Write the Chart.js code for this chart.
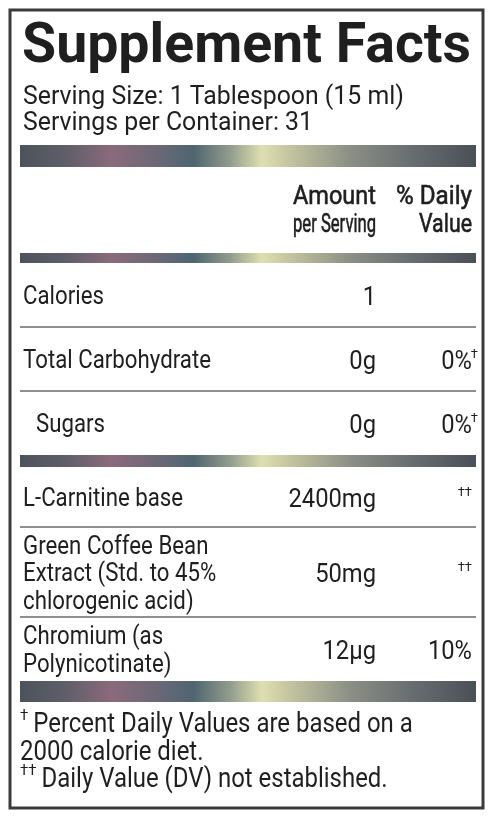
<!DOCTYPE html>
<html lang="en">
<head>
  <meta charset="UTF-8">
  <title>Supplement Facts</title>
  <style>
    * { margin: 0; padding: 0; box-sizing: border-box; }
    body { background: #fff; width: 500px; height: 819px; overflow: hidden; }
    canvas { display: block; }
  </style>
  <script src="https://cdn.jsdelivr.net/npm/chart.js"></script>
</head>
<body>
  <canvas id="factsChart" width="500" height="819"></canvas>

  <script>
    const title = 'Supplement Facts';
    const servingLines = ['Serving Size: 1 Tablespoon (15 ml)', 'Servings per Container: 31'];
    const headerAmount = ['Amount', 'per Serving'];
    const headerDaily = ['% Daily', 'Value'];

    // one entry per row, '\n' splits a name over lines
    const nutrients = [
      'Calories',
      'Total Carbohydrate',
      'Sugars',
      'L-Carnitine base',
      'Green Coffee Bean\nExtract (Std. to 45%\nchlorogenic acid)',
      'Chromium (as\nPolynicotinate)'
    ];
    const amounts = ['1', '0g', '0g', '2400mg', '50mg', '12µg'];
    const dailyValues = ['', '0%', '0%', '', '', '10%'];
    const dailyMarks = ['', '†', '†', '††', '††', ''];
    const subItems = [false, false, true, false, false, false];
    const groups = [[0, 1, 2], [3, 4, 5]];

    const footnotes = [
      ['†', 'Percent Daily Values are based on a'],
      ['', '2000 calorie diet.'],
      ['††', 'Daily Value (DV) not established.']
    ];

    const FONT = 'Roboto, "Open Sans", sans-serif';
    const INK = '#1f1f1f';

    function txt(ctx, s, x, y, size, weight, align, sx, heavy) {
      ctx.save();
      ctx.font = weight + ' ' + size + 'px ' + FONT;
      ctx.textAlign = 'left';
      ctx.textBaseline = 'alphabetic';
      ctx.fillStyle = INK;
      const w = ctx.measureText(s).width * sx;
      const x0 = align === 'right' ? x - w : x;
      ctx.translate(x0, y);
      ctx.scale(sx, 1);
      ctx.fillText(s, 0, 0);
      if (heavy) {
        // a touch heavier, like a medium weight
        ctx.strokeStyle = INK;
        ctx.lineWidth = heavy;
        ctx.strokeText(s, 0, 0);
      }
      ctx.restore();
      return w;
    }

    // squeeze a string to a given width
    function fitTxt(ctx, s, x, y, size, weight, align, width, heavy) {
      ctx.font = weight + ' ' + size + 'px ' + FONT;
      return txt(ctx, s, x, y, size, weight, align, width / ctx.measureText(s).width, heavy);
    }

    function band(ctx, x1, x2, y, h) {
      const g = ctx.createLinearGradient(x1, 0, x2, 0);
      g.addColorStop(0.00, '#4c535b');
      g.addColorStop(0.10, '#5f5e69');
      g.addColorStop(0.20, '#8b6a7b');
      g.addColorStop(0.30, '#6c6877');
      g.addColorStop(0.38, '#4f6570');
      g.addColorStop(0.46, '#909c8c');
      g.addColorStop(0.53, '#dedfb0');
      g.addColorStop(0.60, '#bfc19c');
      g.addColorStop(0.72, '#8d9087');
      g.addColorStop(0.86, '#686d70');
      g.addColorStop(1.00, '#4a5057');
      ctx.fillStyle = g;
      ctx.fillRect(x1, y, x2 - x1, h);
    }

    const labelPlugin = {
      id: 'labelPlugin',
      afterDraw(chart) {
        const ctx = chart.ctx;
        const { left, right, top, bottom } = chart.chartArea;
        const boxL = left + 10, boxR = right - 17, boxT = top + 10, boxB = bottom - 11;
        const inL = boxL + 10, inR = boxR - 7;
        const textL = inL + 3;
        const amtR = 376, dvR = 472;

        ctx.save();
        ctx.fillStyle = '#fff';
        ctx.fillRect(left, top, right - left, bottom - top);

        // outer box
        ctx.strokeStyle = '#3a3a3a';
        ctx.lineWidth = 3;
        ctx.strokeRect(boxL, boxT, boxR - boxL, boxB - boxT);

        // title, stretched to the box width
        fitTxt(ctx, title, textL - 1, top + 62, 55, 'bold', 'left', inR - 4 - textL);

        txt(ctx, servingLines[0], textL, top + 104, 26, 'normal', 'left', 0.955);
        txt(ctx, servingLines[1], textL, top + 130, 26, 'normal', 'left', 0.955);

        band(ctx, inL, inR, top + 145, 22);

        fitTxt(ctx, headerAmount[0], amtR, top + 204, 26, 'normal', 'right', 83, 0.6);
        fitTxt(ctx, headerAmount[1], amtR, top + 232, 26, 'normal', 'right', 83, 0.6);
        fitTxt(ctx, headerDaily[0], dvR, top + 204, 26, 'normal', 'right', 76, 0.6);
        fitTxt(ctx, headerDaily[1], dvR, top + 232, 26, 'normal', 'right', 53, 0.6);

        band(ctx, inL, inR, top + 253, 10);

        let y = top + 263;
        groups.forEach((rows, gi) => {
          rows.forEach((i, k) => {
            const lines = nutrients[i].split('\n');
            const h = lines.length > 1 ? 26 * lines.length + 12 : (gi === 0 ? 64 : 60);
            const mid = y + h / 2;
            const lh = 27.5;
            const first = mid + 9 - (lines.length - 1) * lh / 2;
            lines.forEach((ln, j) => {
              txt(ctx, ln, textL + (subItems[i] ? 13 : 0), first + j * lh, 25, 'normal', 'left', 0.89);
            });
            txt(ctx, amounts[i], amtR, mid + 10, 25, 'normal', 'right', 0.95);
            if (dailyMarks[i]) {
              txt(ctx, dailyMarks[i], dailyValues[i] ? dvR + 6 : dvR, mid - 1, 13, 'normal', 'right', 1);
            }
            if (dailyValues[i]) txt(ctx, dailyValues[i], dvR, mid + 10, 25, 'normal', 'right', 0.95);
            y += h;
            if (k < rows.length - 1) {
              ctx.strokeStyle = '#6a6a6a';
              ctx.lineWidth = 1.6;
              ctx.beginPath();
              ctx.moveTo(inL, y);
              ctx.lineTo(inR, y);
              ctx.stroke();
            }
          });
          const bh = gi < groups.length - 1 ? 12 : 21;
          band(ctx, inL, inR, y, bh);
          y += bh;
        });

        let fy = y + 30;
        footnotes.forEach(([mark, s]) => {
          let x = textL - 3;
          if (mark) {
            const mw = txt(ctx, mark, x, fy - 12, 15, 'normal', 'left', 1);
            x += mw + 5;
          }
          txt(ctx, s, x, fy, 28, 'normal', 'left', 0.855);
          fy += 27.5;
        });
        ctx.restore();
      }
    };

    const ctx = document.getElementById('factsChart').getContext('2d');
    new Chart(ctx, {
      type: 'bar',
      data: {
        labels: nutrients,
        datasets: [{ label: 'Amount', data: [] }]
      },
      options: {
        responsive: false,
        animation: false,
        layout: { padding: 0 },
        plugins: {
          legend: { display: false },
          tooltip: { enabled: false }
        },
        scales: {
          x: { display: false },
          y: { display: false }
        }
      },
      plugins: [labelPlugin]
    });
  </script>
</body>
</html>
